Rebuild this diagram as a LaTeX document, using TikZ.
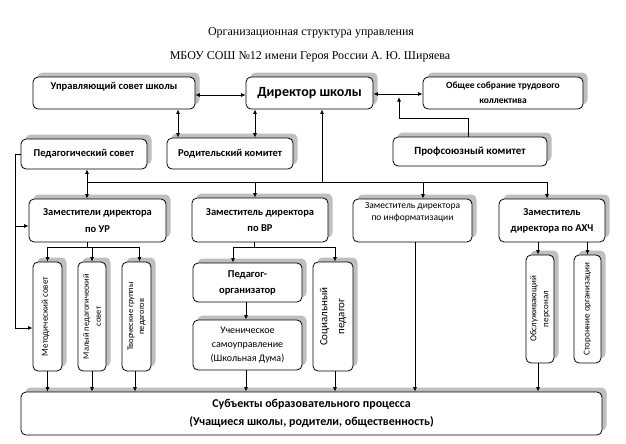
\documentclass[tikz,border=0pt]{standalone}
\usepackage{fontspec}
\setmainfont{Carlito}
\newfontfamily\titlefont{Liberation Serif}
\usetikzlibrary{arrows.meta,shadows}
\tikzset{
  box/.style={draw=black, line width=0.8pt, rounded corners=5pt, fill=white, align=center, inner sep=1pt,
    drop shadow={shadow xshift=4.5pt, shadow yshift=4.5pt, fill=black!25, opacity=1}},
  vtext/.style={rotate=90, align=center, inner sep=0pt},
  titletext/.style={font=\titlefont\fontsize{12pt}{14pt}\selectfont, inner sep=0pt},
  conn/.style={line width=0.8pt, draw=black},
  arr/.style={conn, -{Latex[length=4.5pt,width=4pt]}},
  darr/.style={conn, {Latex[length=4.5pt,width=4pt]}-{Latex[length=4.5pt,width=4pt]}},
  rarr/.style={conn, {Latex[length=4.5pt,width=4pt]}-},
}
\begin{document}
\begin{tikzpicture}[x=1pt,y=-1pt]
\useasboundingbox (0,0) rectangle (626,444);
\fill[white] (0,0) rectangle (626,444);

% titles
\node[titletext] (t1) at (311,33) {Организационная структура управления};
\node[titletext] (t2) at (310,57) {МБОУ СОШ №12 имени Героя России А. Ю. Ширяева};

% top row
\node[box, minimum width=162pt, minimum height=32pt, font=\bfseries\fontsize{10.5pt}{12pt}\selectfont] (upr) at (114,93) {Управляющий совет школы\\[3pt]};
\node[box, minimum width=127pt, minimum height=32pt, font=\bfseries\fontsize{14pt}{16pt}\selectfont] (dir) at (309.5,93) {Директор школы};
\node[box, minimum width=160pt, minimum height=32pt, font=\bfseries\fontsize{9.5pt}{15pt}\selectfont] (obs) at (503,93) {Общее собрание трудового\\коллектива};

% second row
\node[box, minimum width=126pt, minimum height=30pt, font=\bfseries\fontsize{10.5pt}{12pt}\selectfont] (ped) at (84,154) {Педагогический совет};
\node[box, minimum width=126pt, minimum height=31pt, font=\bfseries\fontsize{10.5pt}{12pt}\selectfont] (rod) at (230,153.5) {Родительский комитет};
\node[box, minimum width=154pt, minimum height=29pt, font=\bfseries\fontsize{11pt}{13pt}\selectfont] (prof) at (470,151.5) {Профсоюзный комитет};

% deputies
\node[box, minimum width=137pt, minimum height=43pt, font=\bfseries\fontsize{10.5pt}{17pt}\selectfont] (zur) at (97.5,220.5) {Заместители директора\\по УР};
\node[box, minimum width=136pt, minimum height=44pt, font=\bfseries\fontsize{10.5pt}{16pt}\selectfont] (zvr) at (260,220) {Заместитель директора\\по ВР};
\node[box, minimum width=119pt, minimum height=43pt, font=\fontsize{9.5pt}{12pt}\selectfont] (zinf) at (412.5,220.5) {Заместитель директора\\по информатизации\\[6pt]};
\node[box, minimum width=106pt, minimum height=43pt, font=\bfseries\fontsize{10.5pt}{16pt}\selectfont] (zahch) at (552,220.5) {Заместитель\\директора по АХЧ};

% vertical boxes
\node[box, minimum width=29pt, minimum height=109pt] (met) at (47.5,316.5) {};
\node[vtext, font=\fontsize{9pt}{10pt}\selectfont] (mett) at ([xshift=-2pt]met.center) {Методический совет};
\node[box, minimum width=28pt, minimum height=109pt] (mal) at (92,316.5) {};
\node[vtext, font=\fontsize{8.5pt}{12pt}\selectfont] (malt) at (mal.center) {Малый педагогический\\совет};
\node[box, minimum width=29pt, minimum height=109pt] (tvor) at (136.5,316.5) {};
\node[vtext, font=\fontsize{8.5pt}{11pt}\selectfont] (tvort) at (tvor.center) {Творческие группы\\педагогов};
\node[box, minimum width=40pt, minimum height=109pt] (soc) at (333,316.5) {};
\node[vtext, font=\fontsize{11pt}{17pt}\selectfont] (soct) at (soc.center) {Социальный\\педагог};
\node[box, minimum width=28pt, minimum height=108pt] (obsl) at (540,309) {};
\node[vtext, font=\fontsize{9pt}{12pt}\selectfont] (obslt) at (obsl.center) {Обслуживающий\\персонал};
\node[box, minimum width=27pt, minimum height=108pt] (stor) at (587.5,309) {};
\node[vtext, font=\fontsize{9pt}{11pt}\selectfont] (stort) at (stor.center) {Сторонние организации};

% VR children
\node[box, minimum width=109pt, minimum height=39pt, font=\bfseries\fontsize{10.5pt}{16pt}\selectfont] (porg) at (247.5,282.5) {Педагог-\\организатор};
\node[box, minimum width=109pt, minimum height=50pt, font=\fontsize{10pt}{14pt}\selectfont] (uch) at (247.5,345) {Ученическое\\самоуправление\\(Школьная Дума)};

% bottom
\node[box, minimum width=581pt, minimum height=43pt, font=\bfseries\fontsize{12pt}{18pt}\selectfont] (subj) at (311.5,413.5) {Субъекты образовательного процесса\\(Учащиеся школы, родители, общественность)};

% ---- connectors ----
\draw[darr] ([yshift=-2pt]upr.east) -- ([yshift=-2pt]dir.west);
\draw[darr] ([yshift=-1pt]dir.east) -- ([yshift=-1pt]obs.west);
\draw[darr] ([xshift=64pt]upr.south) -- ([xshift=-52pt]rod.north);
\draw[darr] ([xshift=-54.5pt]dir.south) -- ([xshift=25pt]rod.north);

% general assembly -- union committee
\coordinate (obstip) at (399,97);
\coordinate (obsmid) at (399,118);
\draw[rarr] (obstip) -- (obsmid) -| ([xshift=-2pt]prof.north);

% director bus
\coordinate (busL) at (87,182);
\draw[rarr] ([xshift=12.5pt]dir.south) -- ([xshift=12.5pt]dir.south |- busL);
\draw[arr] (busL) -| ([xshift=-5pt]zahch.north);
\draw[darr] ([xshift=3pt]ped.south) -- ([xshift=-10.5pt]zur.north);
\draw[arr] ([xshift=-5pt]zvr.north |- busL) -- ([xshift=-5pt]zvr.north);
\draw[arr] ([xshift=10.5pt]zinf.north |- busL) -- ([xshift=10.5pt]zinf.north);

% left line from pedagogical council
\coordinate (lx) at (15,0);
\coordinate (metin) at ([yshift=-11.5pt]met.west);
\coordinate (zurin) at ([yshift=-5.5pt]zur.west);
\draw[arr] (ped.west) -| (metin -| lx) -- (metin);
\draw[arr] (zurin -| lx) -- (zurin);

% UR children
\coordinate (urbus) at ([xshift=-10.5pt,yshift=-5pt]zur.south);
\draw[conn] ([xshift=-10.5pt]zur.south) -- (urbus);
\draw[arr] (urbus) -| (met.north);
\draw[arr] (urbus) -| ([xshift=3pt]tvor.north);
\draw[arr] (urbus -| mal.north) -- (mal.north);

% VR children
\coordinate (vrbus) at ([xshift=-6pt,yshift=-5pt]zvr.south);
\draw[conn] ([xshift=-6pt]zvr.south) -- (vrbus);
\draw[arr] (vrbus) -| ([xshift=-14.5pt]porg.north);
\draw[arr] (vrbus) -| ([xshift=2pt]soc.north);
\draw[arr] ([xshift=-1.5pt]porg.south) -- ([xshift=-1.5pt]uch.north);

% AHCh children
\draw[arr] ([xshift=-2pt]obsl.north |- zahch.south) -- ([xshift=-2pt]obsl.north);
\draw[arr] (stor.north |- zahch.south) -- (stor.north);

% to subjects
\draw[arr] (met.south) -- (met.south |- subj.north);
\draw[arr] (mal.south) -- (mal.south |- subj.north);
\draw[arr] ([xshift=-1.5pt]tvor.south) -- ([xshift=-1.5pt]tvor.south |- subj.north);
\draw[arr] ([xshift=-1.5pt]uch.south) -- ([xshift=-1.5pt]uch.south |- subj.north);
\draw[arr] ([xshift=2pt]soc.south) -- ([xshift=2pt]soc.south |- subj.north);
\draw[arr] ([xshift=2.5pt]zinf.south) -- ([xshift=2.5pt]zinf.south |- subj.north);
\draw[arr] ([xshift=-2pt]obsl.south) -- ([xshift=-2pt]obsl.south |- subj.north);
\end{tikzpicture}
\end{document}
